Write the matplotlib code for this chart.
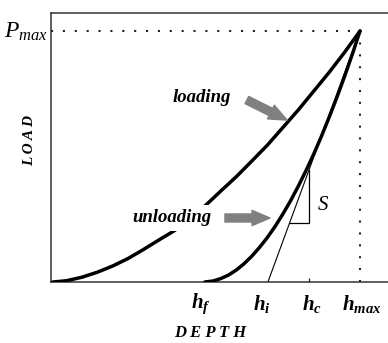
import matplotlib
matplotlib.use('Agg')
import matplotlib.pyplot as plt

plt.rcParams['mathtext.fontset'] = 'custom'
plt.rcParams['mathtext.it'] = 'Liberation Serif:italic'
plt.rcParams['mathtext.rm'] = 'Liberation Serif'
plt.rcParams['mathtext.bfit'] = 'Liberation Serif:italic:bold'

# depth normalised to h_max, load normalised to P_max
load_h = [0.006, 0.05, 0.10, 0.15, 0.20, 0.25, 0.30, 0.35, 0.40, 0.45, 0.50, 0.55,
          0.60, 0.65, 0.70, 0.75, 0.80, 0.85, 0.90, 0.95, 1.0]
load_p = [0.0, 0.005, 0.019, 0.039, 0.064, 0.094, 0.130, 0.168, 0.205, 0.258, 0.305, 0.363,
          0.420, 0.482, 0.545, 0.615, 0.685, 0.760, 0.835, 0.915, 1.0]
unload_h = [0.498, 0.525, 0.55, 0.575, 0.60, 0.625, 0.65, 0.675, 0.70, 0.725, 0.75, 0.775,
            0.80, 0.825, 0.85, 0.875, 0.90, 0.925, 0.95, 0.975, 1.0]
unload_p = [0.0, 0.004, 0.014, 0.028, 0.048, 0.073, 0.103, 0.138, 0.177, 0.221, 0.270, 0.323,
            0.381, 0.443, 0.509, 0.580, 0.656, 0.735, 0.819, 0.907, 1.0]

h_f, h_i, h_c, h_max = 0.498, 0.702, 0.835, 1.0
p_max = 1.0
tri_y = 0.235  # bottom of the stiffness triangle
h_labels = [r'$\mathbfit{h}_{\mathbfit{f}}$', r'$\mathbfit{h}_{\mathbfit{i}}$',
            r'$\mathbfit{h}_{\mathbfit{c}}$', r'$\mathbfit{h}_{\mathbfit{max}}$']
h_label_x = [0.486, 0.683, 0.845, 1.007]

serif = 'Liberation Serif'
arrow_style = 'simple,head_length=1.3,head_width=1.1,tail_width=0.58'

fig = plt.figure(figsize=(3.88, 3.43), dpi=100)
ax = fig.add_axes([51 / 388, 1 - 282 / 343, 1 - 51 / 388, (282 - 13) / 343])
ax.set_xlim(0, 1.0906)
ax.set_ylim(0, 1.0717)
ax.spines['right'].set_visible(False)
for s in ['left', 'top', 'bottom']:
    ax.spines[s].set_color('#333333')
    ax.spines[s].set_linewidth(1.1)
ax.set_yticks([])
ax.set_xticks([h_c])
ax.set_xticklabels([''])
ax.tick_params(axis='x', direction='in', length=3, width=1, color='#333333')

# dotted guides to the peak
ax.plot([0, h_max], [p_max, p_max], color='#222222', lw=1.5, dashes=(1, 4.7))
ax.plot([h_max, h_max], [0, p_max], color='#222222', lw=1.5, dashes=(1, 4.7))

ax.plot(load_h, load_p, color='black', lw=2.5, solid_capstyle='round', zorder=3)
ax.plot(unload_h, unload_p, color='black', lw=2.5, solid_capstyle='round', zorder=3)

# tangent (contact stiffness) and triangle
ax.plot([h_i, h_max], [0, p_max], color='black', lw=0.8, zorder=2)
tri_x0 = h_i + tri_y * (h_max - h_i) / p_max
tri_top = (h_c - h_i) / (h_max - h_i) * p_max
ax.plot([tri_x0, h_c, h_c], [tri_y, tri_y, tri_top], color='black', lw=0.9, zorder=2)
ax.text(0.88, 0.311, r'$S$', fontsize=15, ha='center', va='center')

ax.text(0.489, 0.737, 'loading', fontsize=13.5, family=serif, style='italic',
        fontweight='bold', ha='center', va='center')
ax.text(0.392, 0.255, 'unloading', fontsize=13.5, family=serif, style='italic',
        fontweight='bold', ha='center', va='center', zorder=4,
        bbox=dict(facecolor='white', edgecolor='none', pad=3.0))

ax.annotate('', xy=(0.764, 0.645), xytext=(0.634, 0.725),
            arrowprops=dict(arrowstyle=arrow_style, color='#808080', mutation_scale=10,
                            shrinkA=0, shrinkB=0), zorder=5)
ax.annotate('', xy=(0.709, 0.255), xytext=(0.563, 0.255),
            arrowprops=dict(arrowstyle=arrow_style, color='#808080', mutation_scale=10,
                            shrinkA=0, shrinkB=0), zorder=5)

ax.text(-0.01, p_max, r'$P_{max}$', fontsize=17, ha='right', va='center', clip_on=False)
for x, lab in zip(h_label_x, h_labels):
    ax.text(x, -0.086, lab, fontsize=15, ha='center', va='center', clip_on=False)

ax.text(0.515, -0.203, 'D E P T H', fontsize=12, family=serif, style='italic',
        fontweight='bold', ha='center', va='center', clip_on=False)
ax.text(-0.068, 0.562, 'L O A D', fontsize=11, family=serif, style='italic',
        fontweight='bold', ha='center', va='center', rotation=90, clip_on=False)

fig.savefig('out.png', dpi=100)
